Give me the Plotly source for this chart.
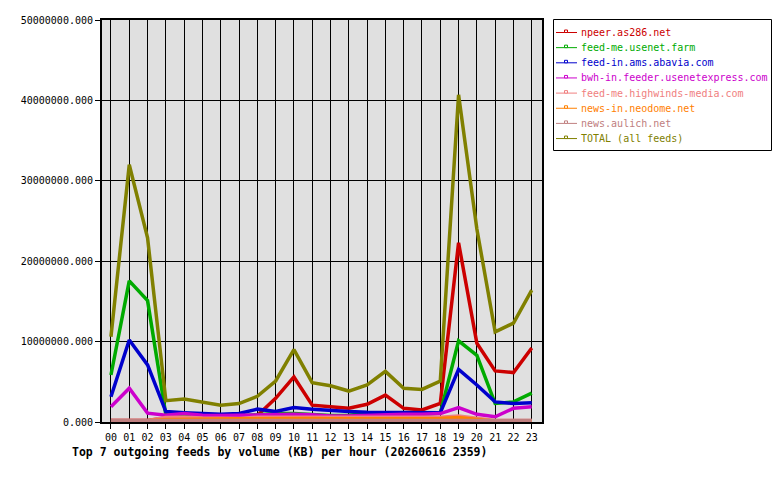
import plotly.graph_objects as go

hours = ["%02d" % h for h in range(24)]
SCALE = 1e6  # values below are in millions of KB

npeer = [0.2, 0.2, 0.2, 0.5, 0.5, 0.5, 0.5, 0.6, 0.8, 2.95, 5.6, 2.1,
         1.9, 1.7, 2.2, 3.35, 1.7, 1.5, 2.3, 22.3, 9.8, 6.35, 6.15, 9.2]
usenet_farm = [5.85, 17.55, 15.1, 0.9, 0.8, 0.75, 0.75, 0.75, 0.9, 1.05, 1.05, 0.95,
               0.8, 0.85, 1.05, 1.05, 0.95, 0.95, 1.1, 10.1, 8.3, 2.3, 2.5, 3.6]
abavia = [3.15, 10.2, 7.1, 1.3, 1.15, 1.08, 0.95, 1.05, 1.6, 1.3, 1.8, 1.6,
          1.4, 1.3, 1.2, 1.2, 1.2, 1.15, 1.15, 6.55, 4.6, 2.5, 2.3, 2.4]
usenetexpress = [1.9, 4.2, 1.1, 0.85, 1.05, 0.85, 0.8, 0.85, 0.95, 0.95, 0.95, 0.9,
                 0.75, 0.75, 0.85, 0.95, 0.95, 0.95, 1.05, 1.8, 0.95, 0.65, 1.7, 1.9]
highwinds = [0.2, 0.2, 0.2, 0.55, 0.6, 0.5, 0.45, 0.45, 0.6, 0.6, 0.55, 0.55,
             0.6, 0.6, 0.65, 0.65, 0.55, 0.55, 0.6, 0.75, 0.5, 0.2, 0.2, 0.2]
neodome = [0.15, 0.15, 0.15, 0.3, 0.35, 0.4, 0.4, 0.4, 0.4, 0.45, 0.4, 0.45,
           0.4, 0.4, 0.45, 0.45, 0.45, 0.45, 0.45, 0.55, 0.3, 0.1, 0.1, 0.1]
aulich = [0.2] * 24
total = [10.6, 32.0, 22.9, 2.65, 2.85, 2.5, 2.1, 2.3, 3.2, 5.1, 9.0, 4.9,
         4.5, 3.85, 4.6, 6.3, 4.2, 4.05, 5.1, 40.7, 24.0, 11.2, 12.3, 16.4]

names = ["npeer.as286.net", "feed-me.usenet.farm", "feed-in.ams.abavia.com",
         "bwh-in.feeder.usenetexpress.com", "feed-me.highwinds-media.com",
         "news-in.neodome.net", "news.aulich.net", "TOTAL (all feeds)"]
series = [npeer, usenet_farm, abavia, usenetexpress, highwinds, neodome, aulich, total]
colors = ["#cc0000", "#00aa00", "#0000cc", "#cc00cc", "#f08080",
          "#ff8000", "#c08080", "#808000"]

FONT = "DejaVu Sans Mono"
x = list(range(24))

# plot-area geometry in pixels
L, R, T, B = 102, 542, 20, 422


def px(v):
    return (v - L) / (R - L)


def py(v):
    return (B - v) / (B - T)


fig = go.Figure()
for name, vals, col in zip(names, series, colors):
    fig.add_trace(go.Scatter(x=x, y=[v * SCALE for v in vals], mode="lines",
                             line=dict(color=col, width=3.5), name=name,
                             showlegend=False, hoverinfo="skip"))

# hand-drawn legend box (matches the reference's compact layout)
shapes = [dict(type="rect", xref="paper", yref="paper",
               x0=px(553.5), x1=px(771.5), y0=py(150.5), y1=py(19.5),
               line=dict(color="black", width=1), fillcolor="white", layer="above")]
annotations = []
for i, (name, col) in enumerate(zip(names, colors)):
    yy = 32.5 + i * 15.15
    shapes.append(dict(type="line", xref="paper", yref="paper",
                       x0=px(556), x1=px(577), y0=py(yy), y1=py(yy),
                       line=dict(color=col, width=1)))
    shapes.append(dict(type="rect", xref="paper", yref="paper",
                       x0=px(564.5), x1=px(567.5), y0=py(yy), y1=py(yy - 2.5),
                       line=dict(color=col, width=1), fillcolor="white"))
    annotations.append(dict(text=name, xref="paper", yref="paper",
                            x=px(579), y=py(yy), xanchor="left", yanchor="middle",
                            showarrow=False,
                            font=dict(family=FONT, size=10, color=col)))

annotations.append(dict(text="<b>Top 7 outgoing feeds by volume (KB) per hour (20260616 2359)</b>",
                        xref="paper", yref="paper", x=-0.0727, y=-0.075,
                        xanchor="left", yanchor="middle", showarrow=False,
                        font=dict(family=FONT, size=11.5, color="black")))

fig.update_layout(
    width=780, height=480,
    margin=dict(l=L, r=780 - R, t=T, b=480 - B),
    paper_bgcolor="white", plot_bgcolor="#e0e0e0",
    font=dict(family=FONT, size=10, color="black"),
    showlegend=False,
    xaxis=dict(range=[-0.49, 23.56], tickvals=x, ticktext=hours,
               showgrid=True, gridcolor="black", gridwidth=1,
               ticks="outside", ticklen=5, tickcolor="black",
               showline=True, linecolor="black", linewidth=2, mirror=True,
               zeroline=False, fixedrange=True),
    yaxis=dict(range=[0, 50e6], tickvals=[0, 10e6, 20e6, 30e6, 40e6, 50e6],
               tickformat=".3f", showgrid=True, gridcolor="black", gridwidth=1,
               ticks="outside", ticklen=5, tickcolor="black",
               showline=True, linecolor="black", linewidth=2, mirror=True,
               zeroline=False, fixedrange=True),
    shapes=shapes,
    annotations=annotations,
)

fig.write_html("out.html")
